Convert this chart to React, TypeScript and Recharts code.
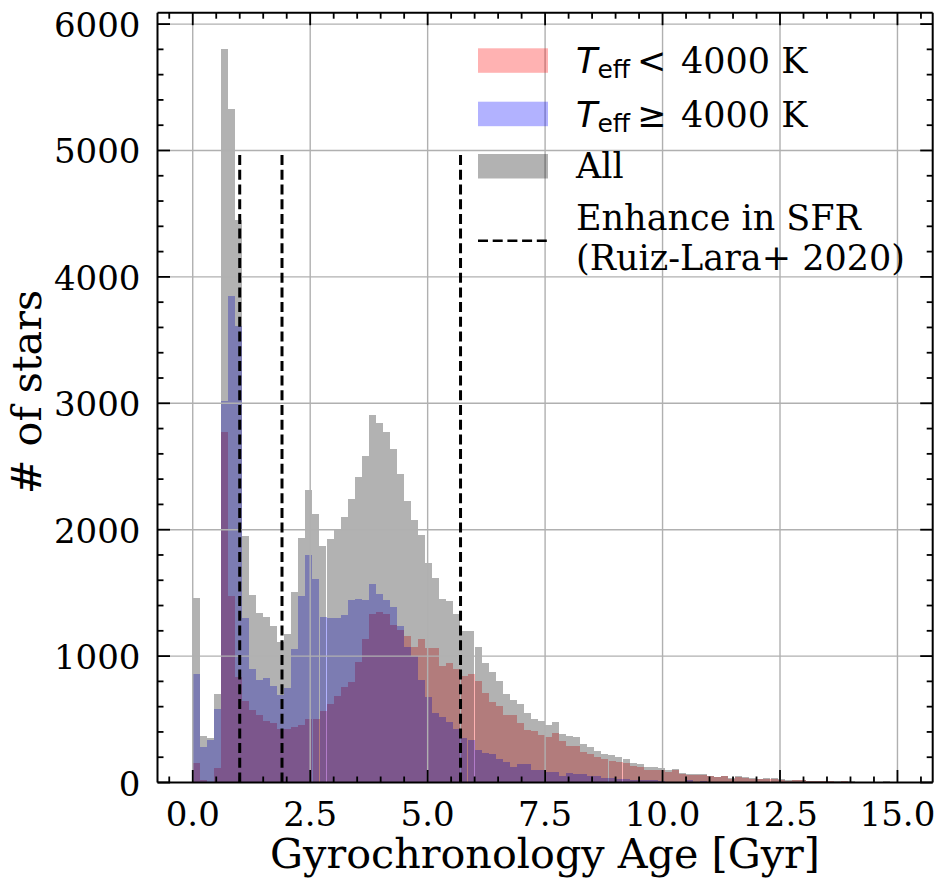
import { ComposedChart, Bar, XAxis, YAxis, ReferenceLine } from "recharts";

// histogram counts per 0.15 Gyr bin, 0 - 15 Gyr
const lowTeff = [
  158, 16, 3, 111, 2776, 1474, 834, 642, 571, 531,
  483, 470, 420, 420, 438, 452, 499, 505, 563, 620,
  684, 755, 792, 951, 1133, 1331, 1347, 1331, 1244, 1204,
  1157, 1070, 1133, 1062, 1062, 919, 943, 895, 840, 856,
  800, 705, 634, 602, 531, 531, 468, 412, 405, 372,
  359, 388, 327, 288, 288, 238, 227, 201, 182, 174,
  161, 153, 127, 121, 100, 100, 95, 87, 95, 69,
  61, 58, 61, 48, 42, 51, 29, 40, 37, 26,
  24, 29, 29, 21, 13, 16, 18, 10, 8, 8,
  8, 7, 8, 7, 4, 2, 2, 1, 7, 0,
];

const highTeff = [
  856, 280, 333, 578, 3019, 3851, 3613, 1300, 901, 814,
  824, 761, 689, 745, 1056, 1474, 1799, 1609, 1307, 1300,
  1300, 1323, 1442, 1450, 1442, 1569, 1490, 1442, 1387, 1236,
  1070, 998, 808, 676, 547, 515, 478, 420, 349, 333,
  254, 232, 222, 182, 161, 121, 143, 148, 100, 95,
  82, 82, 55, 74, 66, 66, 48, 48, 34, 34,
  26, 26, 21, 18, 18, 18, 8, 5, 5, 5,
  18, 5, 8, 3, 3, 3, 2, 6, 1, 1,
  1, 1, 1, 1, 0, 1, 1, 0, 0, 0,
  0, 0, 0, 0, 0, 0, 0, 0, 0, 0,
];

const allStars = [
  1458, 364, 349, 697, 5800, 5325, 4453, 1949, 1482, 1342,
  1307, 1236, 1112, 1173, 1506, 1933, 2314, 2124, 1870, 1926,
  1994, 2100, 2242, 2417, 2583, 2908, 2842, 2773, 2639, 2441,
  2229, 2076, 1957, 1735, 1616, 1450, 1434, 1331, 1197, 1197,
  1070, 943, 872, 803, 697, 650, 618, 553, 499, 483,
  452, 475, 386, 364, 359, 306, 280, 248, 222, 214,
  201, 188, 156, 143, 119, 119, 116, 100, 108, 77,
  71, 66, 71, 55, 45, 55, 37, 55, 45, 32,
  29, 34, 34, 24, 16, 18, 21, 11, 10, 9,
  10, 8, 9, 8, 5, 3, 3, 1, 8, 1,
];

const binWidth = 0.15;

// Ruiz-Lara+ 2020 star formation bursts [Gyr]
const sfrPeaks = [1.0, 1.9, 5.7];
const sfrLineTop = 5000;

const xMajorTicks = [0, 2.5, 5, 7.5, 10, 12.5, 15];
const xTickLabels = ["0.0", "2.5", "5.0", "7.5", "10.0", "12.5", "15.0"];
const yMajorTicks = [0, 1000, 2000, 3000, 4000, 5000, 6000];
const yTickLabels = ["0", "1000", "2000", "3000", "4000", "5000", "6000"];

const xDomain = [-0.75, 15.75];
const yDomain = [0, 6090];

const xTicks = Array.from({ length: 33 }, (_, i) => -0.5 + i * 0.5);
const yTicks = Array.from({ length: 31 }, (_, i) => i * 200);

const rows = allStars.map((all, i) => ({
  x: +(binWidth / 2 + i * binWidth).toFixed(3),
  low: lowTeff[i],
  high: highTeff[i],
  all,
}));

const SERIF = "'DejaVu Serif', serif";
const SANS = "'DejaVu Sans', sans-serif";

const majorIndex = (list: number[], v: number) =>
  list.findIndex((m) => Math.abs(m - v) < 1e-6);
const tickLen = (list: number[], v: number) => (majorIndex(list, v) >= 0 ? 12.5 : 6);

function BottomTick({ x, y, payload }: any) {
  const i = majorIndex(xMajorTicks, payload.value);
  return (
    <g>
      <line x1={x} x2={x} y1={y} y2={y - tickLen(xMajorTicks, payload.value)} stroke="#000" strokeWidth={1.8} />
      {i >= 0 && (
        <text x={x} y={y + 43} textAnchor="middle" fontFamily={SERIF} fontSize={34} fill="#000">
          {xTickLabels[i]}
        </text>
      )}
    </g>
  );
}

function LeftTick({ x, y, payload }: any) {
  const i = majorIndex(yMajorTicks, payload.value);
  return (
    <g>
      <line x1={x} x2={x + tickLen(yMajorTicks, payload.value)} y1={y} y2={y} stroke="#000" strokeWidth={1.8} />
      {i >= 0 && (
        <text x={x - 17} y={y + 13} textAnchor="end" fontFamily={SERIF} fontSize={34} fill="#000">
          {yTickLabels[i]}
        </text>
      )}
    </g>
  );
}

const spine = { stroke: "#000", strokeWidth: 2 };

export default function App() {
  return (
    <div style={{ position: "absolute", left: 0, top: 0, width: 946, height: 888, background: "#fff" }}>
      <ComposedChart
        width={946}
        height={888}
        data={rows}
        margin={{ top: 12.7, right: 13.3, bottom: 0, left: 0 }}
        barGap="-100%"
        barCategoryGap={0}
      >
        <XAxis
          dataKey="x"
          type="number"
          domain={xDomain}
          ticks={xTicks}
          interval={0}
          allowDataOverflow
          height={105.5}
          tickSize={0}
          tickMargin={0}
          tickLine={false}
          axisLine={spine}
          tick={(p: any) => <BottomTick {...p} />}
        />
        <YAxis
          type="number"
          domain={yDomain}
          ticks={yTicks}
          interval={0}
          allowDataOverflow
          width={157.5}
          tickSize={0}
          tickMargin={0}
          tickLine={false}
          axisLine={spine}
          tick={(p: any) => <LeftTick {...p} />}
        />

        <Bar dataKey="low" fill="#ff0000" fillOpacity={0.3} shapeRendering="crispEdges" isAnimationActive={false} />
        <Bar dataKey="high" fill="#0000ff" fillOpacity={0.3} shapeRendering="crispEdges" isAnimationActive={false} />
        <Bar dataKey="all" fill="#000000" fillOpacity={0.3} shapeRendering="crispEdges" isAnimationActive={false} />

        {xMajorTicks.map((v) => (
          <ReferenceLine key={"gx" + v} x={v} stroke="#b0b0b0" strokeWidth={1.4} />
        ))}
        {yMajorTicks.slice(1).map((v) => (
          <ReferenceLine key={"gy" + v} y={v} stroke="#b0b0b0" strokeWidth={1.4} />
        ))}
        {sfrPeaks.map((p) => (
          <ReferenceLine
            key={"sfr" + p}
            segment={[{ x: p, y: 0 }, { x: p, y: sfrLineTop }]}
            stroke="#000"
            strokeWidth={3}
            strokeDasharray="10 4.7"
          />
        ))}

        {/* top and right frame with inward ticks */}
        <ReferenceLine y={yDomain[1]} stroke="#000" strokeWidth={2} />
        <ReferenceLine x={xDomain[1]} stroke="#000" strokeWidth={2} />
        {xTicks.map((v) => (
          <ReferenceLine
            key={"tt" + v}
            segment={[{ x: v, y: yDomain[1] }, { x: v, y: yDomain[0] }]}
            shape={(s: any) => (
              <line x1={s.x1} x2={s.x1} y1={s.y1} y2={s.y1 + tickLen(xMajorTicks, v)} stroke="#000" strokeWidth={1.8} />
            )}
          />
        ))}
        {yTicks.map((v) => (
          <ReferenceLine
            key={"rt" + v}
            segment={[{ x: xDomain[1], y: v }, { x: xDomain[0], y: v }]}
            shape={(s: any) => (
              <line x1={s.x1} x2={s.x1 - tickLen(yMajorTicks, v)} y1={s.y1} y2={s.y1} stroke="#000" strokeWidth={1.8} />
            )}
          />
        ))}
      </ComposedChart>

      <svg width={946} height={888} style={{ position: "absolute", left: 0, top: 0, pointerEvents: "none" }}>
        <text x={545} y={868} textAnchor="middle" fontFamily={SERIF} fontSize={41.3} fill="#000">
          Gyrochronology Age [Gyr]
        </text>
        <text x={41} y={392} textAnchor="middle" fontFamily={SERIF} fontSize={41.3} fill="#000" transform="rotate(-90 41 392)">
          # of stars
        </text>

        <rect x={478} y={48.3} width={70} height={24.5} fill="#ff0000" fillOpacity={0.3} />
        <text y={73.3} fontSize={35} fill="#000">
          <tspan x={576} fontFamily={SANS} fontStyle="italic">T</tspan>
          <tspan fontFamily={SANS} fontSize={25} dy={5}>eff</tspan>
          <tspan x={637} dy={-5} fontFamily={SANS}>&lt;</tspan>
          <tspan x={681} fontFamily={SERIF}>4000 K</tspan>
        </text>

        <rect x={478} y={101.7} width={70} height={24.5} fill="#0000ff" fillOpacity={0.3} />
        <text y={126.7} fontSize={35} fill="#000">
          <tspan x={576} fontFamily={SANS} fontStyle="italic">T</tspan>
          <tspan fontFamily={SANS} fontSize={25} dy={5}>eff</tspan>
          <tspan x={637} dy={-5} fontFamily={SANS}>≥</tspan>
          <tspan x={681} fontFamily={SERIF}>4000 K</tspan>
        </text>

        <rect x={478} y={154} width={70} height={24.5} fill="#000000" fillOpacity={0.3} />
        <text x={576} y={178} fontFamily={SERIF} fontSize={35} fill="#000">All</text>

        <line x1={478} x2={548} y1={240.7} y2={240.7} stroke="#000" strokeWidth={2.6} strokeDasharray="10 4.7" />
        <text x={576} y={230} fontFamily={SERIF} fontSize={35} fill="#000">Enhance in SFR</text>
        <text x={576} y={270} fontFamily={SERIF} fontSize={35} fill="#000">(Ruiz-Lara+ 2020)</text>
      </svg>
    </div>
  );
}
